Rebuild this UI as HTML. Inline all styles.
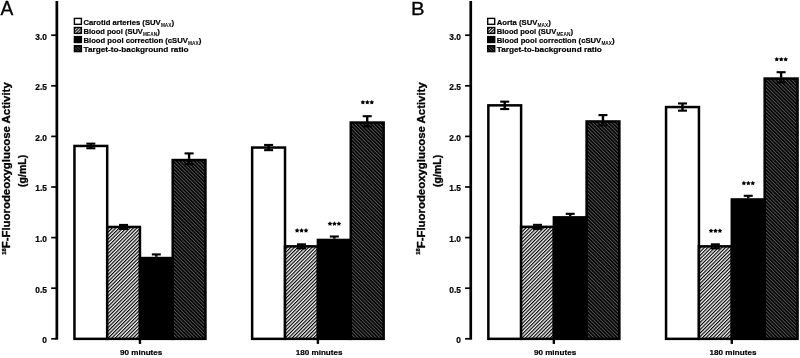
<!DOCTYPE html>
<html>
<head>
<meta charset="utf-8">
<title>Figure</title>
<style>
html,body{margin:0;padding:0;background:#fff;}
body{width:800px;height:358px;overflow:hidden;font-family:"Liberation Sans", sans-serif;}
svg{display:block;will-change:transform;}
svg text{font-family:"Liberation Sans", sans-serif;fill:#000;}
</style>
</head>
<body>
<svg width="800" height="358" viewBox="0 0 800 358">
<defs>
<pattern id="lh" width="2.5" height="2.5" patternUnits="userSpaceOnUse" patternTransform="rotate(-45)">
<rect width="2.5" height="2.5" fill="#f6f6f6"/>
<rect width="2.5" height="1.15" fill="#000"/>
</pattern>
<pattern id="dh" width="2.52" height="2.52" patternUnits="userSpaceOnUse" patternTransform="rotate(45)">
<rect width="2.52" height="2.52" fill="#000"/>
<rect width="2.52" height="0.95" fill="#585858"/>
</pattern>
<pattern id="lhL" width="2.2" height="2.2" patternUnits="userSpaceOnUse" patternTransform="rotate(-45)">
<rect width="2.2" height="2.2" fill="#eee"/>
<rect width="2.2" height="1.1" fill="#000"/>
</pattern>
<pattern id="dhL" width="2.2" height="2.2" patternUnits="userSpaceOnUse" patternTransform="rotate(45)">
<rect width="2.2" height="2.2" fill="#000"/>
<rect width="2.2" height="0.8" fill="#555"/>
</pattern>
</defs>
<rect width="800" height="358" fill="#fff"/>
<rect x="55.50" y="1" width="2.7" height="338.70" fill="#000"/>
<rect x="51.20" y="337.95" width="5" height="1.7" fill="#000"/>
<text x="47.00" y="343.20" font-size="8.4" font-weight="bold" stroke="#000" stroke-width="0.2" text-anchor="end">0</text>
<rect x="51.20" y="287.35" width="5" height="1.7" fill="#000"/>
<text x="47.00" y="292.60" font-size="8.4" font-weight="bold" stroke="#000" stroke-width="0.2" text-anchor="end">0.5</text>
<rect x="51.20" y="236.75" width="5" height="1.7" fill="#000"/>
<text x="47.00" y="242.00" font-size="8.4" font-weight="bold" stroke="#000" stroke-width="0.2" text-anchor="end">1.0</text>
<rect x="51.20" y="186.15" width="5" height="1.7" fill="#000"/>
<text x="47.00" y="191.40" font-size="8.4" font-weight="bold" stroke="#000" stroke-width="0.2" text-anchor="end">1.5</text>
<rect x="51.20" y="135.55" width="5" height="1.7" fill="#000"/>
<text x="47.00" y="140.80" font-size="8.4" font-weight="bold" stroke="#000" stroke-width="0.2" text-anchor="end">2.0</text>
<rect x="51.20" y="84.95" width="5" height="1.7" fill="#000"/>
<text x="47.00" y="90.20" font-size="8.4" font-weight="bold" stroke="#000" stroke-width="0.2" text-anchor="end">2.5</text>
<rect x="51.20" y="34.35" width="5" height="1.7" fill="#000"/>
<text x="47.00" y="39.60" font-size="8.4" font-weight="bold" stroke="#000" stroke-width="0.2" text-anchor="end">3.0</text>
<text x="0.50" y="14.5" font-size="19.6" stroke="#000" stroke-width="0.3" textLength="12.8" lengthAdjust="spacingAndGlyphs">A</text>
<text transform="translate(10.00,168.5) rotate(-90)" font-size="11.4" font-weight="bold" stroke="#000" stroke-width="0.3" text-anchor="middle"><tspan font-size="5.8" dy="-4.2">18</tspan><tspan dy="4.2">F-Fluorodeoxyglucose Activity</tspan></text>
<text transform="translate(26.00,170.9) rotate(-90)" font-size="10.5" font-weight="bold" stroke="#000" stroke-width="0.3" text-anchor="middle">(g/mL)</text>
<rect x="74.40" y="18.40" width="7" height="5.9" fill="#fff" stroke="#000" stroke-width="1.4"/>
<text x="83.50" y="24.70" font-size="8" font-weight="bold" stroke="#000" stroke-width="0.2" textLength="77.2" lengthAdjust="spacingAndGlyphs">Carotid arteries (SUV</text>
<text x="160.90" y="26.60" font-size="4.6" font-weight="bold" textLength="10.6" lengthAdjust="spacingAndGlyphs">MAX</text>
<text x="171.60" y="24.70" font-size="8" font-weight="bold" stroke="#000" stroke-width="0.2">)</text>
<rect x="74.40" y="27.50" width="7" height="5.9" fill="url(#lhL)" stroke="#000" stroke-width="1.4"/>
<text x="83.50" y="33.80" font-size="8" font-weight="bold" stroke="#000" stroke-width="0.2" textLength="59.4" lengthAdjust="spacingAndGlyphs">Blood pool (SUV</text>
<text x="143.10" y="35.70" font-size="4.6" font-weight="bold" textLength="14.0" lengthAdjust="spacingAndGlyphs">MEAN</text>
<text x="157.20" y="33.80" font-size="8" font-weight="bold" stroke="#000" stroke-width="0.2">)</text>
<rect x="74.40" y="36.60" width="7" height="5.9" fill="#000" stroke="#000" stroke-width="1.4"/>
<text x="83.50" y="42.90" font-size="8" font-weight="bold" stroke="#000" stroke-width="0.2" textLength="104.4" lengthAdjust="spacingAndGlyphs">Blood pool correction (cSUV</text>
<text x="188.10" y="44.80" font-size="4.6" font-weight="bold" textLength="10.6" lengthAdjust="spacingAndGlyphs">MAX</text>
<text x="198.80" y="42.90" font-size="8" font-weight="bold" stroke="#000" stroke-width="0.2">)</text>
<rect x="74.40" y="45.70" width="7" height="5.9" fill="url(#dhL)" stroke="#000" stroke-width="1.4"/>
<text x="83.50" y="52.00" font-size="8" font-weight="bold" stroke="#000" stroke-width="0.2" textLength="105.0" lengthAdjust="spacingAndGlyphs">Target-to-background ratio</text>
<rect x="73.20" y="144.70" width="35.25" height="195.40" fill="#000"/>
<rect x="75.70" y="147.20" width="30.25" height="190.40" fill="#fff"/>
<rect x="105.95" y="225.70" width="35.25" height="114.40" fill="#000"/>
<rect x="108.45" y="228.20" width="30.25" height="109.40" fill="url(#lh)"/>
<rect x="138.70" y="256.80" width="35.25" height="83.30" fill="#000"/>
<rect x="171.45" y="158.80" width="35.25" height="181.30" fill="#000"/>
<rect x="173.95" y="161.30" width="30.25" height="176.30" fill="url(#dh)"/>
<rect x="86.33" y="142.60" width="9.0" height="2.1" fill="#000"/>
<rect x="89.62" y="143.65" width="2.4" height="2.30" fill="#000"/>
<rect x="86.33" y="147.20" width="9.0" height="2.1" fill="#000"/>
<rect x="89.62" y="145.95" width="2.4" height="2.30" fill="#000"/>
<rect x="119.07" y="223.90" width="9.0" height="2.1" fill="#000"/>
<rect x="122.37" y="224.95" width="2.4" height="2.00" fill="#000"/>
<rect x="119.07" y="227.90" width="9.0" height="2.1" fill="#000"/>
<rect x="122.37" y="226.95" width="2.4" height="2.00" fill="#000"/>
<rect x="151.82" y="253.35" width="9.0" height="2.1" fill="#000"/>
<rect x="155.12" y="254.40" width="2.4" height="2.40" fill="#000"/>
<rect x="184.57" y="152.35" width="9.0" height="2.1" fill="#000"/>
<rect x="187.88" y="153.40" width="2.4" height="5.40" fill="#000"/>
<rect x="184.57" y="163.15" width="9.0" height="2.1" fill="#000"/>
<rect x="187.88" y="158.80" width="2.4" height="5.40" fill="#000"/>
<rect x="138.75" y="339" width="2.4" height="4.9" fill="#000"/>
<text x="141.15" y="354.6" font-size="8.1" font-weight="bold" stroke="#000" stroke-width="0.2" text-anchor="middle">90 minutes</text>
<rect x="250.90" y="146.30" width="35.37" height="193.80" fill="#000"/>
<rect x="253.40" y="148.80" width="30.37" height="188.80" fill="#fff"/>
<rect x="283.77" y="245.10" width="35.38" height="95.00" fill="#000"/>
<rect x="286.27" y="247.60" width="30.38" height="90.00" fill="url(#lh)"/>
<rect x="316.65" y="238.70" width="35.38" height="101.40" fill="#000"/>
<rect x="349.52" y="121.30" width="35.38" height="218.80" fill="#000"/>
<rect x="352.02" y="123.80" width="30.38" height="213.80" fill="url(#dh)"/>
<rect x="264.09" y="143.90" width="9.0" height="2.1" fill="#000"/>
<rect x="267.39" y="144.95" width="2.4" height="2.60" fill="#000"/>
<rect x="264.09" y="149.10" width="9.0" height="2.1" fill="#000"/>
<rect x="267.39" y="147.55" width="2.4" height="2.60" fill="#000"/>
<rect x="296.96" y="243.30" width="9.0" height="2.1" fill="#000"/>
<rect x="300.26" y="244.35" width="2.4" height="2.00" fill="#000"/>
<rect x="296.96" y="247.30" width="9.0" height="2.1" fill="#000"/>
<rect x="300.26" y="246.35" width="2.4" height="2.00" fill="#000"/>
<polygon points="297.11,228.10 297.91,229.46 299.44,229.79 298.40,230.97 298.55,232.53 297.11,231.90 295.67,232.53 295.83,230.97 294.78,229.79 296.32,229.46" fill="#000"/>
<polygon points="301.56,228.10 302.36,229.46 303.89,229.79 302.85,230.97 303.00,232.53 301.56,231.90 300.12,232.53 300.28,230.97 299.23,229.79 300.77,229.46" fill="#000"/>
<polygon points="306.01,228.10 306.81,229.46 308.34,229.79 307.30,230.97 307.45,232.53 306.01,231.90 304.57,232.53 304.73,230.97 303.68,229.79 305.22,229.46" fill="#000"/>
<rect x="329.84" y="235.45" width="9.0" height="2.1" fill="#000"/>
<rect x="333.14" y="236.50" width="2.4" height="2.20" fill="#000"/>
<polygon points="329.99,221.30 330.78,222.66 332.32,222.99 331.27,224.17 331.43,225.73 329.99,225.10 328.55,225.73 328.70,224.17 327.66,222.99 329.19,222.66" fill="#000"/>
<polygon points="334.44,221.30 335.23,222.66 336.77,222.99 335.72,224.17 335.88,225.73 334.44,225.10 333.00,225.73 333.15,224.17 332.11,222.99 333.64,222.66" fill="#000"/>
<polygon points="338.89,221.30 339.68,222.66 341.22,222.99 340.17,224.17 340.33,225.73 338.89,225.10 337.45,225.73 337.60,224.17 336.56,222.99 338.09,222.66" fill="#000"/>
<rect x="362.71" y="115.15" width="9.0" height="2.1" fill="#000"/>
<rect x="366.01" y="116.20" width="2.4" height="5.10" fill="#000"/>
<rect x="362.71" y="125.35" width="9.0" height="2.1" fill="#000"/>
<rect x="366.01" y="121.30" width="2.4" height="5.10" fill="#000"/>
<polygon points="362.86,99.90 363.66,101.26 365.19,101.59 364.15,102.77 364.30,104.33 362.86,103.70 361.42,104.33 361.58,102.77 360.53,101.59 362.07,101.26" fill="#000"/>
<polygon points="367.31,99.90 368.11,101.26 369.64,101.59 368.60,102.77 368.75,104.33 367.31,103.70 365.87,104.33 366.03,102.77 364.98,101.59 366.52,101.26" fill="#000"/>
<polygon points="371.76,99.90 372.56,101.26 374.09,101.59 373.05,102.77 373.20,104.33 371.76,103.70 370.32,104.33 370.48,102.77 369.43,101.59 370.97,101.26" fill="#000"/>
<rect x="316.70" y="339" width="2.4" height="4.9" fill="#000"/>
<text x="319.10" y="354.6" font-size="8.1" font-weight="bold" stroke="#000" stroke-width="0.2" text-anchor="middle">180 minutes</text>
<rect x="469.40" y="1" width="2.7" height="338.70" fill="#000"/>
<rect x="465.10" y="337.95" width="5" height="1.7" fill="#000"/>
<text x="460.90" y="343.20" font-size="8.4" font-weight="bold" stroke="#000" stroke-width="0.2" text-anchor="end">0</text>
<rect x="465.10" y="287.35" width="5" height="1.7" fill="#000"/>
<text x="460.90" y="292.60" font-size="8.4" font-weight="bold" stroke="#000" stroke-width="0.2" text-anchor="end">0.5</text>
<rect x="465.10" y="236.75" width="5" height="1.7" fill="#000"/>
<text x="460.90" y="242.00" font-size="8.4" font-weight="bold" stroke="#000" stroke-width="0.2" text-anchor="end">1.0</text>
<rect x="465.10" y="186.15" width="5" height="1.7" fill="#000"/>
<text x="460.90" y="191.40" font-size="8.4" font-weight="bold" stroke="#000" stroke-width="0.2" text-anchor="end">1.5</text>
<rect x="465.10" y="135.55" width="5" height="1.7" fill="#000"/>
<text x="460.90" y="140.80" font-size="8.4" font-weight="bold" stroke="#000" stroke-width="0.2" text-anchor="end">2.0</text>
<rect x="465.10" y="84.95" width="5" height="1.7" fill="#000"/>
<text x="460.90" y="90.20" font-size="8.4" font-weight="bold" stroke="#000" stroke-width="0.2" text-anchor="end">2.5</text>
<rect x="465.10" y="34.35" width="5" height="1.7" fill="#000"/>
<text x="460.90" y="39.60" font-size="8.4" font-weight="bold" stroke="#000" stroke-width="0.2" text-anchor="end">3.0</text>
<text x="411.00" y="14.9" font-size="18.2" stroke="#000" stroke-width="0.3" textLength="13.6" lengthAdjust="spacingAndGlyphs">B</text>
<text transform="translate(424.60,168.5) rotate(-90)" font-size="11.4" font-weight="bold" stroke="#000" stroke-width="0.3" text-anchor="middle"><tspan font-size="5.8" dy="-4.2">18</tspan><tspan dy="4.2">F-Fluorodeoxyglucose Activity</tspan></text>
<text transform="translate(440.60,170.9) rotate(-90)" font-size="10.5" font-weight="bold" stroke="#000" stroke-width="0.3" text-anchor="middle">(g/mL)</text>
<rect x="487.70" y="18.40" width="7" height="5.9" fill="#fff" stroke="#000" stroke-width="1.4"/>
<text x="496.80" y="24.70" font-size="8" font-weight="bold" stroke="#000" stroke-width="0.2" textLength="40.6" lengthAdjust="spacingAndGlyphs">Aorta (SUV</text>
<text x="537.60" y="26.60" font-size="4.6" font-weight="bold" textLength="10.6" lengthAdjust="spacingAndGlyphs">MAX</text>
<text x="548.30" y="24.70" font-size="8" font-weight="bold" stroke="#000" stroke-width="0.2">)</text>
<rect x="487.70" y="27.50" width="7" height="5.9" fill="url(#lhL)" stroke="#000" stroke-width="1.4"/>
<text x="496.80" y="33.80" font-size="8" font-weight="bold" stroke="#000" stroke-width="0.2" textLength="59.4" lengthAdjust="spacingAndGlyphs">Blood pool (SUV</text>
<text x="556.40" y="35.70" font-size="4.6" font-weight="bold" textLength="14.0" lengthAdjust="spacingAndGlyphs">MEAN</text>
<text x="570.50" y="33.80" font-size="8" font-weight="bold" stroke="#000" stroke-width="0.2">)</text>
<rect x="487.70" y="36.60" width="7" height="5.9" fill="#000" stroke="#000" stroke-width="1.4"/>
<text x="496.80" y="42.90" font-size="8" font-weight="bold" stroke="#000" stroke-width="0.2" textLength="104.4" lengthAdjust="spacingAndGlyphs">Blood pool correction (cSUV</text>
<text x="601.40" y="44.80" font-size="4.6" font-weight="bold" textLength="10.6" lengthAdjust="spacingAndGlyphs">MAX</text>
<text x="612.10" y="42.90" font-size="8" font-weight="bold" stroke="#000" stroke-width="0.2">)</text>
<rect x="487.70" y="45.70" width="7" height="5.9" fill="url(#dhL)" stroke="#000" stroke-width="1.4"/>
<text x="496.80" y="52.00" font-size="8" font-weight="bold" stroke="#000" stroke-width="0.2" textLength="105.0" lengthAdjust="spacingAndGlyphs">Target-to-background ratio</text>
<rect x="487.10" y="104.10" width="35.25" height="236.00" fill="#000"/>
<rect x="489.60" y="106.60" width="30.25" height="231.00" fill="#fff"/>
<rect x="519.85" y="225.60" width="35.25" height="114.50" fill="#000"/>
<rect x="522.35" y="228.10" width="30.25" height="109.50" fill="url(#lh)"/>
<rect x="552.60" y="216.10" width="35.25" height="124.00" fill="#000"/>
<rect x="585.35" y="120.20" width="35.25" height="219.90" fill="#000"/>
<rect x="587.85" y="122.70" width="30.25" height="214.90" fill="url(#dh)"/>
<rect x="500.22" y="100.60" width="9.0" height="2.1" fill="#000"/>
<rect x="503.52" y="101.65" width="2.4" height="3.70" fill="#000"/>
<rect x="500.22" y="108.00" width="9.0" height="2.1" fill="#000"/>
<rect x="503.52" y="105.35" width="2.4" height="3.70" fill="#000"/>
<rect x="532.97" y="223.80" width="9.0" height="2.1" fill="#000"/>
<rect x="536.27" y="224.85" width="2.4" height="2.00" fill="#000"/>
<rect x="532.97" y="227.80" width="9.0" height="2.1" fill="#000"/>
<rect x="536.27" y="226.85" width="2.4" height="2.00" fill="#000"/>
<rect x="565.72" y="212.75" width="9.0" height="2.1" fill="#000"/>
<rect x="569.02" y="213.80" width="2.4" height="2.30" fill="#000"/>
<rect x="598.47" y="114.05" width="9.0" height="2.1" fill="#000"/>
<rect x="601.77" y="115.10" width="2.4" height="5.10" fill="#000"/>
<rect x="598.47" y="124.25" width="9.0" height="2.1" fill="#000"/>
<rect x="601.77" y="120.20" width="2.4" height="5.10" fill="#000"/>
<rect x="552.65" y="339" width="2.4" height="4.9" fill="#000"/>
<text x="555.05" y="354.6" font-size="8.1" font-weight="bold" stroke="#000" stroke-width="0.2" text-anchor="middle">90 minutes</text>
<rect x="664.80" y="105.80" width="35.38" height="234.30" fill="#000"/>
<rect x="667.30" y="108.30" width="30.38" height="229.30" fill="#fff"/>
<rect x="697.67" y="245.10" width="35.38" height="95.00" fill="#000"/>
<rect x="700.17" y="247.60" width="30.38" height="90.00" fill="url(#lh)"/>
<rect x="730.55" y="198.20" width="35.38" height="141.90" fill="#000"/>
<rect x="763.42" y="77.30" width="35.38" height="262.80" fill="#000"/>
<rect x="765.92" y="79.80" width="30.38" height="257.80" fill="url(#dh)"/>
<rect x="677.99" y="102.40" width="9.0" height="2.1" fill="#000"/>
<rect x="681.29" y="103.45" width="2.4" height="3.60" fill="#000"/>
<rect x="677.99" y="109.60" width="9.0" height="2.1" fill="#000"/>
<rect x="681.29" y="107.05" width="2.4" height="3.60" fill="#000"/>
<rect x="710.86" y="243.30" width="9.0" height="2.1" fill="#000"/>
<rect x="714.16" y="244.35" width="2.4" height="2.00" fill="#000"/>
<rect x="710.86" y="247.30" width="9.0" height="2.1" fill="#000"/>
<rect x="714.16" y="246.35" width="2.4" height="2.00" fill="#000"/>
<polygon points="711.01,228.40 711.81,229.76 713.34,230.09 712.30,231.27 712.45,232.83 711.01,232.20 709.57,232.83 709.73,231.27 708.68,230.09 710.22,229.76" fill="#000"/>
<polygon points="715.46,228.40 716.26,229.76 717.79,230.09 716.75,231.27 716.90,232.83 715.46,232.20 714.02,232.83 714.18,231.27 713.13,230.09 714.67,229.76" fill="#000"/>
<polygon points="719.91,228.40 720.71,229.76 722.24,230.09 721.20,231.27 721.35,232.83 719.91,232.20 718.47,232.83 718.63,231.27 717.58,230.09 719.12,229.76" fill="#000"/>
<rect x="743.74" y="194.75" width="9.0" height="2.1" fill="#000"/>
<rect x="747.04" y="195.80" width="2.4" height="2.40" fill="#000"/>
<polygon points="743.89,180.80 744.68,182.16 746.22,182.49 745.17,183.67 745.33,185.23 743.89,184.60 742.45,185.23 742.60,183.67 741.56,182.49 743.09,182.16" fill="#000"/>
<polygon points="748.34,180.80 749.13,182.16 750.67,182.49 749.62,183.67 749.78,185.23 748.34,184.60 746.90,185.23 747.05,183.67 746.01,182.49 747.54,182.16" fill="#000"/>
<polygon points="752.79,180.80 753.58,182.16 755.12,182.49 754.07,183.67 754.23,185.23 752.79,184.60 751.35,185.23 751.50,183.67 750.46,182.49 751.99,182.16" fill="#000"/>
<rect x="776.61" y="71.15" width="9.0" height="2.1" fill="#000"/>
<rect x="779.91" y="72.20" width="2.4" height="5.10" fill="#000"/>
<rect x="776.61" y="81.35" width="9.0" height="2.1" fill="#000"/>
<rect x="779.91" y="77.30" width="2.4" height="5.10" fill="#000"/>
<polygon points="776.76,56.90 777.56,58.26 779.09,58.59 778.05,59.77 778.20,61.33 776.76,60.70 775.32,61.33 775.48,59.77 774.43,58.59 775.97,58.26" fill="#000"/>
<polygon points="781.21,56.90 782.01,58.26 783.54,58.59 782.50,59.77 782.65,61.33 781.21,60.70 779.77,61.33 779.93,59.77 778.88,58.59 780.42,58.26" fill="#000"/>
<polygon points="785.66,56.90 786.46,58.26 787.99,58.59 786.95,59.77 787.10,61.33 785.66,60.70 784.22,61.33 784.38,59.77 783.33,58.59 784.87,58.26" fill="#000"/>
<rect x="730.60" y="339" width="2.4" height="4.9" fill="#000"/>
<text x="733.00" y="354.6" font-size="8.1" font-weight="bold" stroke="#000" stroke-width="0.2" text-anchor="middle">180 minutes</text>
</svg>
</body>
</html>
